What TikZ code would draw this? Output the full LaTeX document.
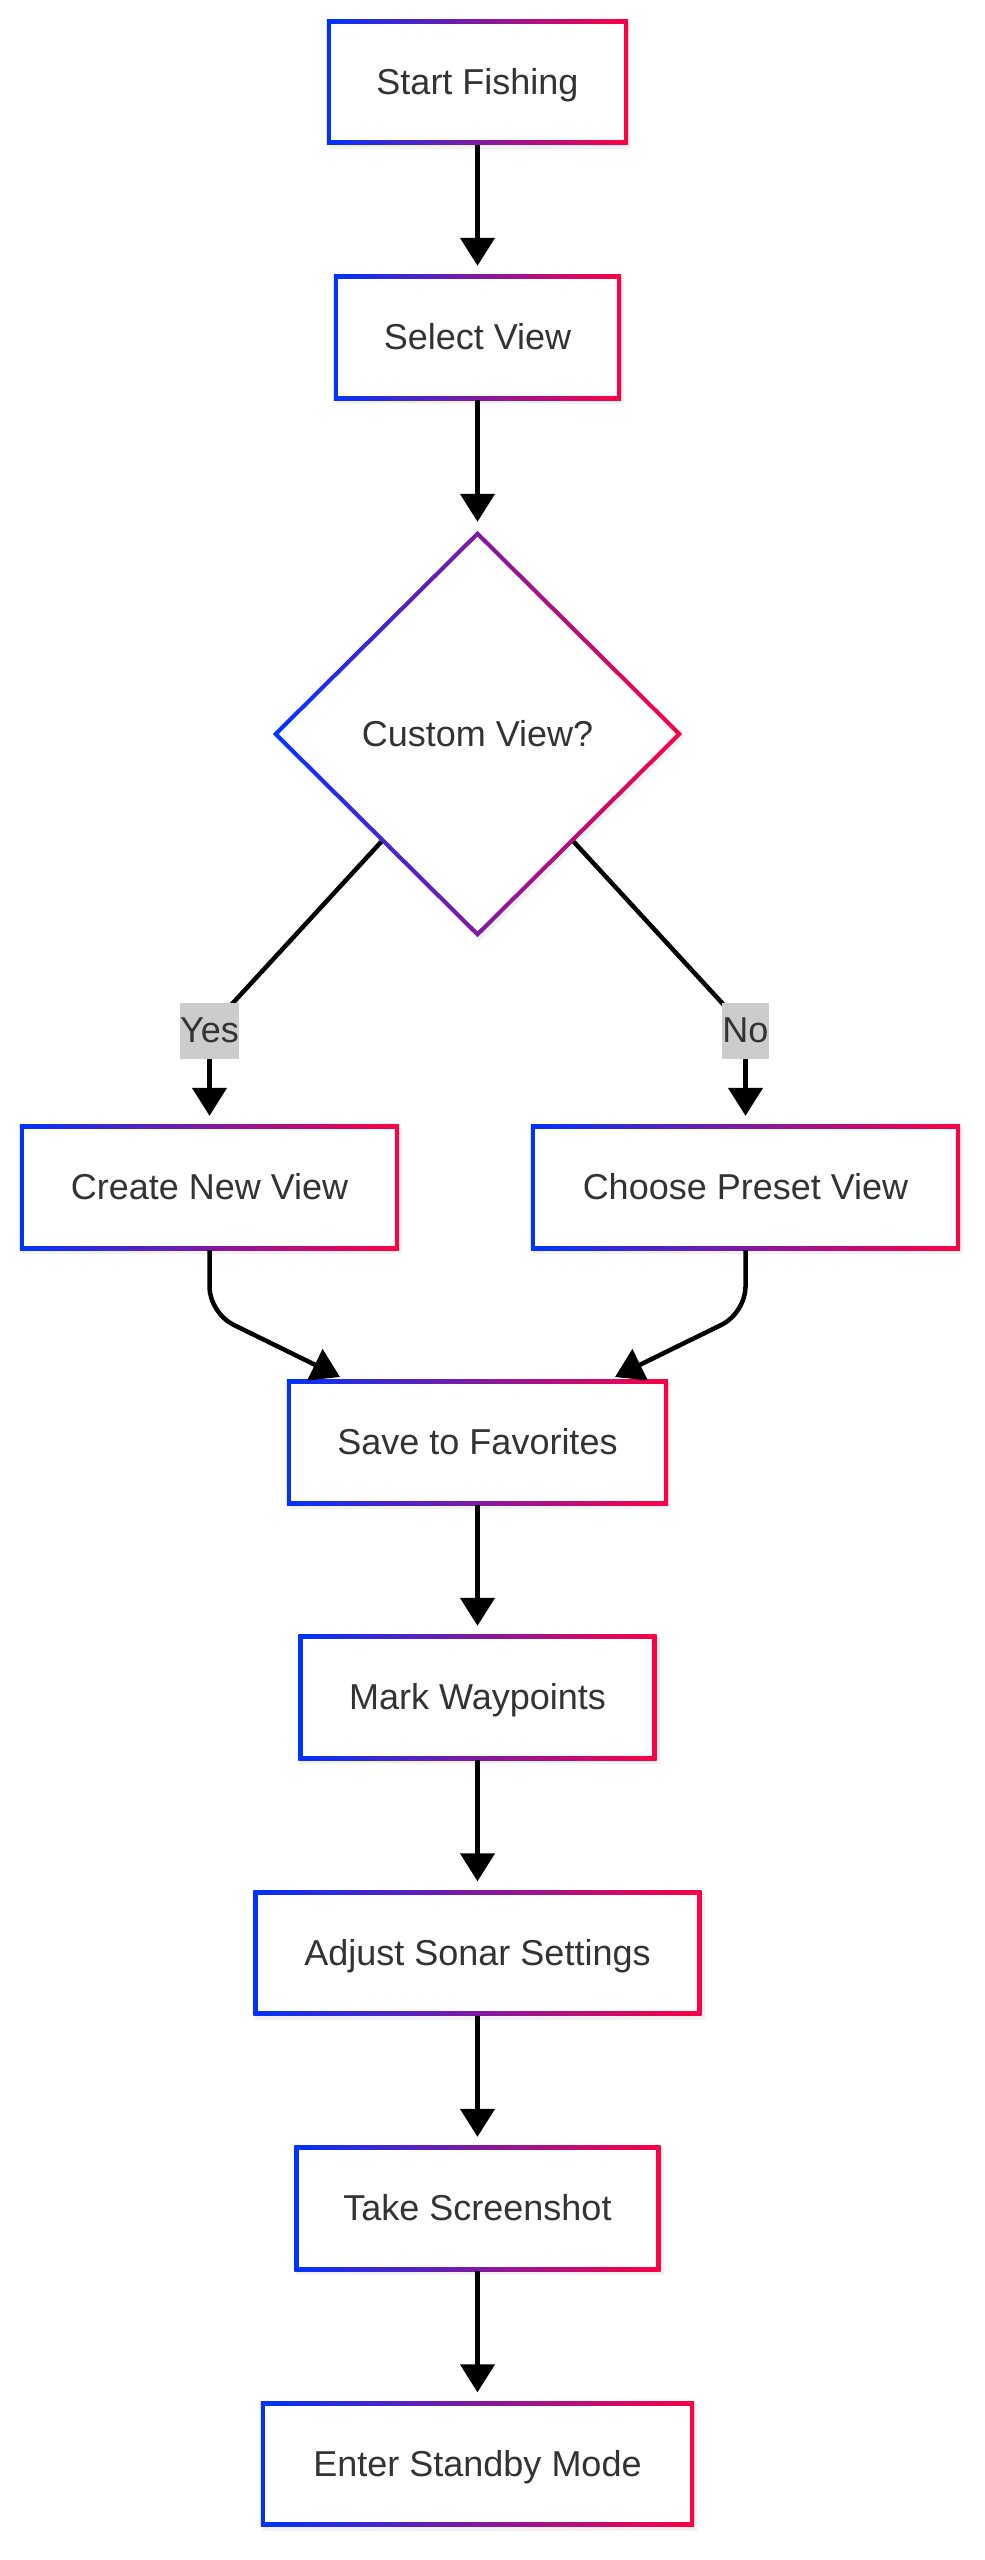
\documentclass[tikz,border=0pt]{standalone}
\usepackage{fontspec}
\setmainfont{Liberation Sans}
\usetikzlibrary{arrows.meta,shapes.geometric,backgrounds,calc}
\definecolor{gblue}{HTML}{0033FF}
\definecolor{gred}{HTML}{FF0044}
\definecolor{txt}{HTML}{333333}
\definecolor{lblgray}{HTML}{CCCCCC}
\tikzset{
  nodefont/.style={text=txt, font=\fontsize{36}{42}\selectfont, text height=32pt, text depth=7.5pt},
  box/.style={rectangle, draw=none, inner sep=0pt, minimum height=125pt, nodefont},
  decision/.style={diamond, draw=none, inner sep=0pt, minimum width=409pt, minimum height=406pt, nodefont},
  lbl/.style={rectangle, fill=lblgray, inner xsep=0.5pt, inner ysep=0pt, minimum height=56pt, nodefont, text height=30pt, text depth=8pt},
  arr/.style={line width=4.5pt, black, -{Triangle[width=34pt,length=28pt]}},
  link/.style={line width=4.5pt, black}
}
\newcommand{\gradrect}[1]{%
  \fill[black!10, opacity=0.5] ([shift={(2pt,-3pt)}]#1.north west) rectangle ([shift={(3pt,-4pt)}]#1.south east);
  \shade[left color=gblue, right color=gred] (#1.north west) rectangle (#1.south east);
  \fill[white] ([shift={(4.5pt,-4.5pt)}]#1.north west) rectangle ([shift={(-4.5pt,4.5pt)}]#1.south east);
}
\begin{document}
\begin{tikzpicture}[x=1pt,y=-1pt]
\useasboundingbox (0,0) rectangle (985,2560);

\node[box, minimum width=301pt] (start) at (477.5,82) {Start Fishing};
\node[box, minimum width=287pt] (select) at (477.5,337.5) {Select View};
\node[decision] (dec) at (477.5,734) {Custom View?};
\node[box, minimum width=379pt] (create) at (209.5,1187.5) {Create New View};
\node[box, minimum width=429pt] (choose) at (745.5,1187.5) {Choose Preset View};
\node[box, minimum width=381pt] (save) at (477.5,1442.5) {Save to Favorites};
\node[box, minimum width=358pt] (mark) at (477.5,1697.5) {Mark Waypoints};
\node[box, minimum width=448pt] (adjust) at (477.5,1953) {Adjust Sonar Settings};
\node[box, minimum width=366pt] (take) at (477.5,2208.5) {Take Screenshot};
\node[box, minimum width=433pt] (enter) at (477.5,2464) {Enter Standby Mode};

\node[lbl] (yes) at (209.5,1031) {Yes};
\node[lbl] (no) at (745.5,1031) {No};

\coordinate (tipL) at (340,1377);
\coordinate (tipR) at (615,1377);

\begin{scope}[on background layer]
  \fill[white] (0,0) rectangle (985,2560);
  \gradrect{start}
  \gradrect{select}
  \gradrect{create}
  \gradrect{choose}
  \gradrect{save}
  \gradrect{mark}
  \gradrect{adjust}
  \gradrect{take}
  \gradrect{enter}
  \fill[black!10, opacity=0.5] ([shift={(2pt,-4pt)}]dec.north) -- ([shift={(3pt,-3pt)}]dec.east) -- ([shift={(2pt,-4pt)}]dec.south) -- ([shift={(1pt,-3pt)}]dec.west) -- cycle;
  \shade[left color=gblue, right color=gred] (dec.north) -- (dec.east) -- (dec.south) -- (dec.west) -- cycle;
  \fill[white] ([yshift=-6pt]dec.north) -- ([xshift=-6pt]dec.east) -- ([yshift=6pt]dec.south) -- ([xshift=6pt]dec.west) -- cycle;

  \draw[arr, shorten >=9pt] (start.south) -- (select.north);
  \draw[arr, shorten >=9pt] (select.south) -- (dec.north);
  \draw[link] ($(dec.west)!0.53!(dec.south)$) -- (232,1004) .. controls (209.5,1030) .. (yes.south);
  \draw[arr, shorten >=9pt] (yes.south) -- (create.north);
  \draw[link] ($(dec.east)!0.53!(dec.south)$) -- (723,1004) .. controls (745.5,1030) .. (no.south);
  \draw[arr, shorten >=9pt] (no.south) -- (choose.north);
  \draw[arr, rounded corners=26pt] (create.south) -- (209.5,1313) -- (tipL);
  \draw[arr, rounded corners=26pt] (choose.south) -- (745.5,1313) -- (tipR);
  \draw[arr, shorten >=9pt] (save.south) -- (mark.north);
  \draw[arr, shorten >=9pt] (mark.south) -- (adjust.north);
  \draw[arr, shorten >=9pt] (adjust.south) -- (take.north);
  \draw[arr, shorten >=9pt] (take.south) -- (enter.north);
\end{scope}
\end{tikzpicture}
\end{document}
